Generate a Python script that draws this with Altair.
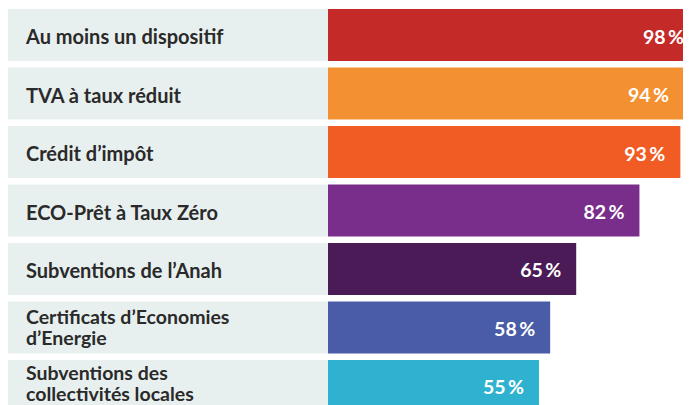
import altair as alt
import pandas as pd

line1 = [
    "Au moins un dispositif",
    "TVA à taux réduit",
    "Crédit d’impôt",
    "ECO-Prêt à Taux Zéro",
    "Subventions de l’Anah",
    "Certificats d’Economies",
    "Subventions des",
]
line2 = ["", "", "", "", "", "d’Energie", "collectivités locales"]
values = [98, 94, 93, 82, 65, 58, 55]
colors = ["#C42A27", "#F39132", "#F15B24", "#7A2E8C", "#4A1B56", "#4A5CA8", "#2EB2CF"]

rows = [f"r{i}" for i in range(len(values))]
df = pd.DataFrame({
    "row": rows,
    "l1": line1,
    "l2": line2,
    "value": values,
    "pct": [f"{v}\u2009%" for v in values],
})

W, H = 675, 397
# scale: plot x = 326.4 + 3.72 * v
x0 = -326.4 / 3.72
x1 = (W - 326.4) / 3.72
bar_start = (320 - 326.4) / 3.72
label_x = (18 - 326.4) / 3.72

xs = alt.Scale(domain=[x0, x1], range=[0, W], nice=False, zero=False)
ys = alt.Scale(domain=rows, range=[0, 405], paddingInner=0.111, paddingOuter=0.0171)
y = alt.Y("row:N", scale=ys, axis=None, sort=rows)

base = alt.Chart(df)

box = base.mark_bar(color="#E8F0EF", clip=True).encode(
    x=alt.X("v0:Q", scale=xs, axis=None), x2="v1:Q", y=y
).transform_calculate(v0=str(x0), v1=str(bar_start))

bars = base.mark_bar(clip=True).encode(
    x=alt.X("value:Q", scale=xs, axis=None),
    x2=alt.datum(bar_start),
    y=y,
    color=alt.Color("row:N", scale=alt.Scale(domain=rows, range=colors), legend=None),
)

txt = dict(align="left", baseline="alphabetic", font="Lato", fontWeight="bold",
           fontSize=20, color="#2A2A2A", clip=True)


def label_layer(field, dy, cond, size=20):
    t = dict(txt, fontSize=size)
    return base.mark_text(dy=dy, **t).encode(
        x=alt.X("lx:Q", scale=xs, axis=None), y=y, text=f"{field}:N"
    ).transform_calculate(lx=str(label_x)).transform_filter(cond)


single = label_layer("l1", 9, "datum.l2 == ''")
r5a = label_layer("l1", -3, "datum.row == 'r5'", 19.5)
r5b = label_layer("l2", 18, "datum.row == 'r5'", 19.5)
r6a = label_layer("l1", -5.5, "datum.row == 'r6'", 19.5)
r6b = label_layer("l2", 15.5, "datum.row == 'r6'", 19.5)

pct = base.mark_text(
    align="right", baseline="alphabetic", dy=8.5, dx=-15, font="Lato", fontWeight="bold",
    fontSize=19.5, color="white", clip=True,
).encode(
    x=alt.X("value:Q", scale=xs, axis=None), y=y, text="pct:N"
)

chart = alt.layer(box, bars, single, r5a, r5b, r6a, r6b, pct).properties(
    width=W, height=H, padding=0, autosize=alt.AutoSizeParams(type="none"),
    background="white",
).configure_view(stroke=None)

chart.save("out.html", embed_options={"renderer": "svg", "actions": False})
